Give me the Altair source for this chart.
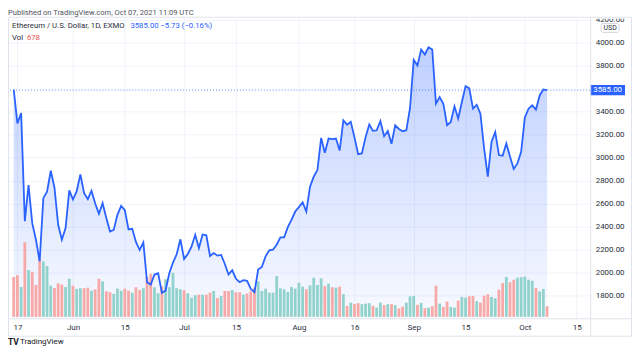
import altair as alt
import pandas as pd

START = "2021-05-16"

prices = [
    3589, 3295, 3386, 2447, 2760, 2430, 2286, 2099, 2647, 2704,
    2885, 2740, 2416, 2286, 2387, 2715, 2635, 2708, 2854, 2690,
    2639, 2711, 2600, 2511, 2603, 2475, 2358, 2372, 2502, 2580,
    2542, 2375, 2381, 2267, 2197, 2263, 1917, 1897, 1984, 1995,
    1826, 1845, 1995, 2088, 2160, 2290, 2119, 2163, 2225, 2329,
    2214, 2332, 2325, 2145, 2171, 2148, 2154, 2076, 1984, 2021,
    1947, 1917, 1935, 1930, 1860, 1831, 2027, 2050, 2142, 2194,
    2200, 2243, 2306, 2306, 2396, 2459, 2531, 2569, 2612, 2531,
    2747, 2833, 2891, 3170, 3040, 3165, 3160, 3165, 3060, 3323,
    3285, 3309, 3175, 3029, 3035, 3177, 3286, 3231, 3236, 3316,
    3185, 3230, 3119, 3280, 3248, 3228, 3236, 3430, 3848, 3799,
    3937, 3894, 3957, 3937, 3467, 3525, 3467, 3280, 3309, 3444,
    3338, 3482, 3620, 3600, 3424, 3458, 3381, 3079, 2833, 3136,
    3222, 3021, 3015, 3122, 3006, 2900, 2949, 3050, 3347, 3424,
    3453, 3416, 3539, 3591, 3585,
]

volumes = [
    2536, 2644, 1902, 4755, 2980, 2872, 2029, 3658, 3531, 3233,
    1984, 1839, 2137, 2048, 1902, 2428, 1984, 1775, 1820, 1820,
    1858, 1667, 1756, 2428, 2263, 1629, 1566, 1458, 1794, 1667,
    1794, 1667, 1541, 1883, 1712, 1820, 2555, 2745, 1883, 1503,
    1946, 2390, 1883, 2809, 1820, 1756, 1693, 1503, 1205, 1376,
    1414, 1414, 1414, 1541, 1648, 1205, 1331, 1648, 1648, 1712,
    1566, 1566, 1414, 1477, 1629, 1858, 2263, 1648, 1794, 1541,
    1541, 2599, 1820, 1756, 1585, 1902, 1794, 2175, 1921, 1756,
    2010, 2492, 2029, 2454, 1965, 2111, 1883, 1858, 1921, 1439,
    697, 907, 805, 869, 805, 843, 869, 697, 590, 907,
    742, 805, 805, 742, 539, 647, 900, 1300, 1331, 761,
    888, 552, 590, 678, 1984, 843, 634, 970, 634, 590,
    1033, 1268, 1224, 1312, 1331, 995, 907, 1350, 1439, 1268,
    1186, 1731, 2156, 2536, 2200, 2365, 2492, 2517, 2555, 2365,
    2301, 1839, 1629, 1775, 678,
]

tick_dates = ["2021-05-17", "2021-06-01", "2021-06-15", "2021-07-01", "2021-07-15",
              "2021-08-01", "2021-08-16", "2021-09-01", "2021-09-15", "2021-10-01",
              "2021-10-15"]
tick_labels = ["17", "Jun", "15", "Jul", "15", "Aug", "16", "Sep", "15", "Oct", "15"]
# 3600.00 sits behind the last-price badge in the reference
price_ticks = [1800, 2000, 2200, 2400, 2600, 2800, 3000, 3200, 3400, 3800, 4000, 4200]

header_title = "Published on TradingView.com, Oct 07, 2021 11:09 UTC"
legend_name = "Ethereum / U.S. Dollar, 1D, EXMO"
legend_last = "3585.00"
legend_change = "\u22125.73 (\u22120.16%)"
legend_vol_label = "Vol"
legend_vol_value = "678"
currency = "USD"
brand = "TradingView"

# ---------------------------------------------------------------- data
dates = pd.date_range(START, periods=len(prices), freq="D")
start_ts = pd.Timestamp(START)
direction = ["down"] + ["up" if prices[i] >= prices[i - 1] else "down" for i in range(1, len(prices))]
df = pd.DataFrame({
    "day": [(d - start_ts).days for d in dates],
    "date": dates.strftime("%Y-%m-%d"),
    "price": prices,
    "volume": volumes,
    "dir": direction,
})
last_df = pd.DataFrame({"price": [prices[-1]]})
one = pd.DataFrame({"k": [0]})

tick_days = [int((pd.Timestamp(d) - start_ts).days) for d in tick_dates]
label_expr = " : ".join(f"datum.value == {d} ? '{l}'" for d, l in zip(tick_days, tick_labels)) + " : ''"

FONT = "Roboto"
BLUE = "#2962FF"
TEXT = "#2A2E39"
GRID = "#F0F3FA"
BORDER = "#E0E3EB"
W, H = 585, 302
Y_MIN, Y_MAX = 1604, 4213

x_scale = alt.Scale(domain=[-0.2, 154.3], nice=False, zero=False)
y_scale = alt.Scale(domain=[Y_MIN, Y_MAX], nice=False, zero=False)
v_scale = alt.Scale(domain=[-95, 19050], nice=False, zero=False)

x_axis = alt.Axis(values=tick_days, labelExpr=label_expr, grid=True, gridColor=GRID,
                  ticks=False, domain=False, labelFont=FONT, labelFontSize=8,
                  labelColor=TEXT, labelBaseline="middle", labelPadding=9,
                  labelFlush=False, labelOverlap=False, title=None)
y_axis = alt.Axis(orient="right", values=price_ticks, format=".2f", grid=True, gridColor=GRID,
                  ticks=False, domain=False, labelFont=FONT, labelFontSize=8,
                  labelColor=TEXT, labelPadding=5, labelOverlap=False, title=None)

X = alt.X("day:Q", scale=x_scale, axis=x_axis)

gradient = alt.Gradient(
    gradient="linear",
    stops=[alt.GradientStop(color="rgba(41,98,255,0.30)", offset=0),
           alt.GradientStop(color="rgba(41,98,255,0.03)", offset=1)],
    x1=1, x2=1, y1=0, y2=1,
)

area = alt.Chart(df).mark_area(color=gradient, line=False).encode(
    x=X,
    y=alt.Y("price:Q", scale=y_scale, axis=y_axis),
    y2=alt.Y2Datum(Y_MIN),
)

bars = alt.Chart(df).mark_bar(size=2.8).encode(
    x=X,
    y=alt.Y("volume:Q", scale=v_scale, axis=None),
    color=alt.Color("dir:N", scale=alt.Scale(domain=["up", "down"], range=["#92D2CC", "#F7A9A7"]),
                    legend=None),
)

last_rule = alt.Chart(last_df).mark_rule(color=BLUE, strokeDash=[1, 2], strokeWidth=1, opacity=0.75).encode(
    y=alt.Y("price:Q", scale=y_scale, axis=None),
)

line = alt.Chart(df).mark_line(color=BLUE, strokeWidth=1.8).encode(
    x=X,
    y=alt.Y("price:Q", scale=y_scale, axis=None),
)

badge_shape = "M-1,-0.29 L1,-0.29 L1,0.29 L-1,0.29 Z"
badge = alt.Chart(last_df).mark_point(shape=badge_shape, size=1225, filled=True, color=BLUE,
                                      opacity=1, strokeWidth=0).encode(
    x=alt.value(602.5),
    y=alt.Y("price:Q", scale=y_scale, axis=None),
)
badge_text = alt.Chart(last_df).mark_text(color="white", fontSize=8, font=FONT, align="center",
                                          baseline="middle").encode(
    x=alt.value(602.5),
    y=alt.Y("price:Q", scale=y_scale, axis=None),
    text=alt.Text("price:Q", format=".2f"),
)


def label(txt, x, y, size=8, color=TEXT, weight="normal", align="left", baseline="middle"):
    return alt.Chart(one).mark_text(text=txt, align=align, baseline=baseline, fontSize=size,
                                    font=FONT, color=color, fontWeight=weight).encode(
        x=alt.value(x), y=alt.value(y))


cover = alt.Chart(one).mark_rect(color="white").encode(
    x=alt.value(586), x2=alt.value(627), y=alt.value(-9), y2=alt.value(1))
usd_box = alt.Chart(one).mark_rect(fill="white", stroke="#C9CCD6", strokeWidth=0.8, cornerRadius=2).encode(
    x=alt.value(596), x2=alt.value(614), y=alt.value(5.7), y2=alt.value(14.7))
frame = alt.Chart(one).mark_rect(fillOpacity=0, stroke=BORDER, strokeWidth=1).encode(
    x=alt.value(0.5), x2=alt.value(626.5), y=alt.value(-0.5), y2=alt.value(320))
vsep = alt.Chart(one).mark_rule(color=BORDER, strokeWidth=1).encode(
    x=alt.value(585.5), y=alt.value(-0.5), y2=alt.value(320))
hsep = alt.Chart(one).mark_rule(color=BORDER, strokeWidth=1).encode(
    x=alt.value(0), x2=alt.value(627), y=alt.value(302.5))

texts = [
    label(header_title, 0, -3, size=7.6, color="#50535E", baseline="alphabetic"),
    label(legend_name, 4, 8.7, size=7.8),
    label(legend_last, 123, 8.7, size=7.8, color=BLUE),
    label(legend_change, 153, 8.7, size=7.8, color=BLUE),
    label(legend_vol_label, 4, 20.3, size=7.8),
    label(legend_vol_value, 19, 20.3, size=7.8, color="#EF5350"),
    label(currency, 605, 10.2, size=7, align="center"),
    label("TV", 0, 325.5, size=8.5, color="#131722", weight="bold"),
    label(brand, 12, 325.5, size=8, color="#131722"),
]

chart = alt.layer(
    area, bars, last_rule, line, badge, badge_text,
    cover, usd_box, frame, vsep, hsep, *texts,
).resolve_scale(y="independent").properties(
    width=W, height=H,
    padding={"left": 0, "top": 9, "right": 42, "bottom": 27},
    autosize=alt.AutoSizeParams(type="none"),
    background="white",
).configure_view(stroke=None)

chart.save("out.html", embed_options={"renderer": "svg", "actions": False})
